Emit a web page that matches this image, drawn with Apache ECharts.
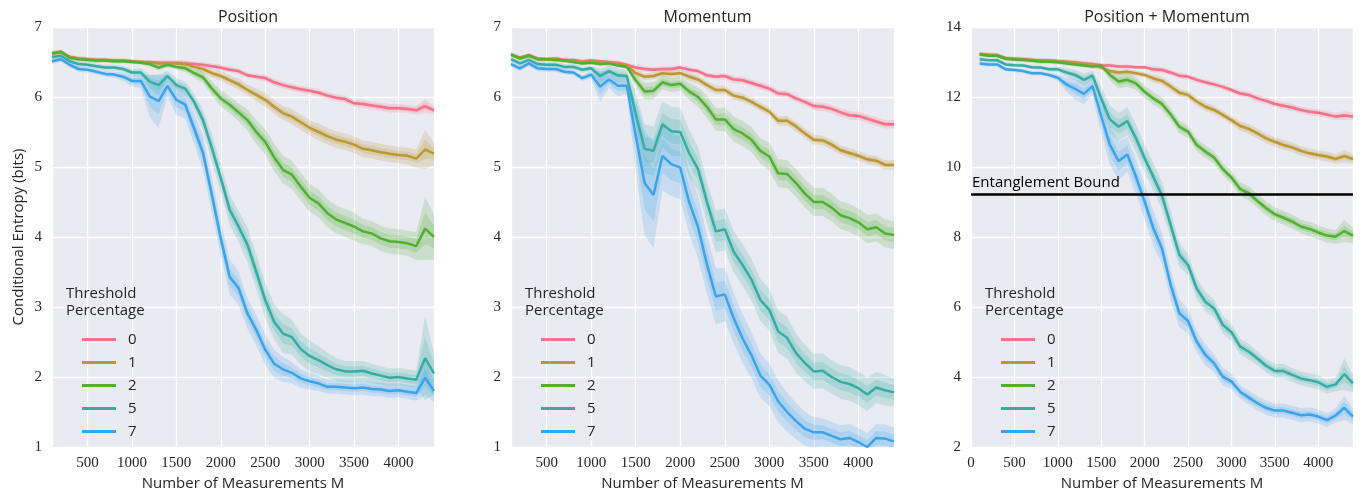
<!DOCTYPE html>
<html>
<head>
<meta charset="utf-8">
<script src="https://cdn.jsdelivr.net/npm/echarts@6/dist/echarts.min.js"></script>
<style>
  html, body { margin: 0; padding: 0; background: #fff; }
  #chart { width: 1369px; height: 500px; }
</style>
</head>
<body>
<div id="chart"></div>
<script>
// measurements M (x values)
const measurements = [100, 200, 300, 400, 500, 600, 700, 800, 900, 1000,
  1100, 1200, 1300, 1400, 1500, 1600, 1700, 1800, 1900, 2000,
  2100, 2200, 2300, 2400, 2500, 2600, 2700, 2800, 2900, 3000,
  3100, 3200, 3300, 3400, 3500, 3600, 3700, 3800, 3900, 4000,
  4100, 4200, 4300, 4400];

const thresholds = ['0', '1', '2', '5', '7'];
const panelTitles = ['Position', 'Momentum', 'Position + Momentum'];

// ---- Position: mean entropy per threshold
const pos0 = [6.62, 6.64, 6.57, 6.55, 6.54, 6.53, 6.53, 6.52, 6.52, 6.51, 6.50, 6.50, 6.49, 6.49, 6.49, 6.48, 6.47, 6.46, 6.44, 6.42, 6.39, 6.37, 6.31, 6.29, 6.27, 6.21, 6.17, 6.14, 6.11, 6.09, 6.06, 6.02, 5.99, 5.97, 5.91, 5.90, 5.88, 5.86, 5.84, 5.84, 5.83, 5.81, 5.87, 5.81];
const pos1 = [6.63, 6.64, 6.57, 6.55, 6.54, 6.53, 6.53, 6.52, 6.52, 6.51, 6.50, 6.49, 6.48, 6.48, 6.48, 6.47, 6.43, 6.40, 6.34, 6.30, 6.24, 6.18, 6.10, 6.03, 5.96, 5.86, 5.77, 5.72, 5.64, 5.56, 5.50, 5.44, 5.39, 5.36, 5.32, 5.26, 5.24, 5.21, 5.19, 5.17, 5.16, 5.12, 5.25, 5.19];
const pos2 = [6.62, 6.65, 6.56, 6.54, 6.53, 6.52, 6.52, 6.51, 6.51, 6.50, 6.49, 6.47, 6.42, 6.46, 6.43, 6.41, 6.34, 6.28, 6.12, 5.98, 5.89, 5.78, 5.67, 5.50, 5.36, 5.14, 4.96, 4.89, 4.72, 4.56, 4.48, 4.34, 4.25, 4.20, 4.15, 4.08, 4.05, 3.98, 3.94, 3.93, 3.91, 3.87, 4.12, 4.00];
const pos5 = [6.57, 6.59, 6.51, 6.47, 6.46, 6.44, 6.42, 6.42, 6.40, 6.35, 6.35, 6.22, 6.17, 6.30, 6.17, 6.12, 5.93, 5.67, 5.27, 4.84, 4.39, 4.15, 3.89, 3.50, 3.10, 2.79, 2.62, 2.57, 2.40, 2.30, 2.24, 2.17, 2.11, 2.08, 2.08, 2.09, 2.05, 2.02, 1.99, 2.00, 1.98, 1.96, 2.27, 2.05];
const pos7 = [6.51, 6.54, 6.46, 6.40, 6.39, 6.36, 6.33, 6.32, 6.29, 6.23, 6.23, 6.01, 5.94, 6.16, 5.96, 5.89, 5.55, 5.20, 4.60, 3.98, 3.43, 3.27, 2.91, 2.67, 2.39, 2.19, 2.11, 2.06, 1.98, 1.94, 1.91, 1.86, 1.86, 1.85, 1.84, 1.85, 1.83, 1.82, 1.80, 1.81, 1.79, 1.77, 1.99, 1.80];

// ---- Position: half width of the outer (95%) band
const posErr0 = [0.03, 0.03, 0.03, 0.03, 0.03, 0.03, 0.03, 0.03, 0.03, 0.03, 0.03, 0.03, 0.03, 0.03, 0.03, 0.04, 0.04, 0.04, 0.04, 0.04, 0.04, 0.04, 0.04, 0.04, 0.05, 0.05, 0.05, 0.05, 0.05, 0.05, 0.05, 0.05, 0.05, 0.05, 0.05, 0.06, 0.06, 0.06, 0.06, 0.06, 0.06, 0.06, 0.10, 0.06];
const posErr1 = [0.03, 0.03, 0.03, 0.03, 0.03, 0.03, 0.03, 0.03, 0.03, 0.03, 0.03, 0.03, 0.04, 0.04, 0.04, 0.05, 0.05, 0.06, 0.06, 0.07, 0.07, 0.08, 0.08, 0.09, 0.10, 0.10, 0.10, 0.11, 0.11, 0.11, 0.12, 0.12, 0.12, 0.12, 0.12, 0.12, 0.12, 0.12, 0.12, 0.12, 0.12, 0.13, 0.28, 0.16];
const posErr2 = [0.03, 0.03, 0.03, 0.03, 0.03, 0.03, 0.03, 0.03, 0.03, 0.03, 0.03, 0.04, 0.05, 0.04, 0.04, 0.05, 0.06, 0.08, 0.10, 0.12, 0.12, 0.13, 0.15, 0.17, 0.18, 0.20, 0.20, 0.20, 0.20, 0.20, 0.20, 0.20, 0.20, 0.20, 0.20, 0.18, 0.18, 0.18, 0.18, 0.18, 0.18, 0.20, 0.45, 0.32];
const posErr5 = [0.04, 0.04, 0.04, 0.04, 0.04, 0.04, 0.04, 0.04, 0.04, 0.05, 0.06, 0.10, 0.14, 0.08, 0.10, 0.10, 0.12, 0.15, 0.20, 0.20, 0.22, 0.22, 0.25, 0.25, 0.25, 0.25, 0.28, 0.25, 0.22, 0.22, 0.20, 0.18, 0.16, 0.15, 0.15, 0.14, 0.14, 0.13, 0.13, 0.13, 0.13, 0.13, 0.60, 0.30];
const posErr7 = [0.04, 0.04, 0.04, 0.04, 0.04, 0.04, 0.04, 0.04, 0.06, 0.08, 0.10, 0.30, 0.38, 0.15, 0.22, 0.20, 0.22, 0.25, 0.25, 0.25, 0.25, 0.24, 0.22, 0.22, 0.22, 0.20, 0.18, 0.15, 0.13, 0.12, 0.11, 0.10, 0.10, 0.10, 0.10, 0.10, 0.10, 0.10, 0.10, 0.10, 0.10, 0.11, 0.25, 0.15];

// ---- Momentum
const mom0 = [6.61, 6.56, 6.60, 6.55, 6.54, 6.55, 6.53, 6.53, 6.51, 6.52, 6.51, 6.50, 6.49, 6.46, 6.42, 6.40, 6.39, 6.40, 6.40, 6.42, 6.39, 6.37, 6.31, 6.29, 6.30, 6.25, 6.24, 6.20, 6.16, 6.12, 6.05, 6.04, 5.98, 5.93, 5.87, 5.86, 5.83, 5.78, 5.74, 5.73, 5.69, 5.65, 5.61, 5.61];
const mom1 = [6.60, 6.56, 6.59, 6.54, 6.54, 6.54, 6.52, 6.51, 6.50, 6.51, 6.50, 6.48, 6.47, 6.45, 6.34, 6.29, 6.30, 6.34, 6.33, 6.34, 6.29, 6.25, 6.17, 6.10, 6.10, 6.02, 5.99, 5.93, 5.86, 5.79, 5.66, 5.66, 5.58, 5.48, 5.39, 5.38, 5.32, 5.24, 5.20, 5.16, 5.11, 5.09, 5.03, 5.03];
const mom2 = [6.61, 6.55, 6.59, 6.54, 6.54, 6.53, 6.52, 6.50, 6.48, 6.49, 6.47, 6.48, 6.45, 6.43, 6.24, 6.08, 6.09, 6.21, 6.17, 6.19, 6.08, 6.00, 5.86, 5.68, 5.68, 5.54, 5.48, 5.39, 5.23, 5.15, 4.91, 4.90, 4.77, 4.62, 4.50, 4.50, 4.42, 4.31, 4.27, 4.21, 4.11, 4.14, 4.05, 4.03];
const mom5 = [6.54, 6.48, 6.53, 6.47, 6.46, 6.46, 6.43, 6.43, 6.39, 6.41, 6.30, 6.37, 6.31, 6.30, 5.76, 5.26, 5.23, 5.61, 5.51, 5.50, 5.20, 4.97, 4.50, 4.08, 4.11, 3.79, 3.60, 3.39, 3.10, 2.96, 2.65, 2.56, 2.34, 2.20, 2.08, 2.09, 2.00, 1.93, 1.90, 1.84, 1.75, 1.85, 1.81, 1.78];
const mom7 = [6.47, 6.41, 6.48, 6.41, 6.40, 6.40, 6.36, 6.35, 6.27, 6.32, 6.15, 6.25, 6.16, 6.16, 5.45, 4.77, 4.60, 5.16, 5.04, 4.99, 4.50, 4.14, 3.61, 3.15, 3.18, 2.84, 2.55, 2.31, 2.02, 1.89, 1.65, 1.50, 1.37, 1.26, 1.21, 1.21, 1.16, 1.11, 1.13, 1.07, 1.00, 1.13, 1.12, 1.08];

const momErr0 = [0.03, 0.03, 0.03, 0.03, 0.03, 0.03, 0.03, 0.03, 0.03, 0.03, 0.03, 0.03, 0.03, 0.03, 0.04, 0.04, 0.04, 0.04, 0.04, 0.04, 0.04, 0.04, 0.04, 0.04, 0.05, 0.05, 0.05, 0.05, 0.05, 0.05, 0.05, 0.05, 0.05, 0.05, 0.06, 0.06, 0.06, 0.06, 0.06, 0.06, 0.06, 0.06, 0.06, 0.06];
const momErr1 = [0.03, 0.03, 0.03, 0.03, 0.03, 0.03, 0.03, 0.03, 0.03, 0.03, 0.03, 0.03, 0.03, 0.03, 0.05, 0.05, 0.05, 0.05, 0.05, 0.05, 0.06, 0.06, 0.06, 0.06, 0.06, 0.06, 0.06, 0.06, 0.06, 0.06, 0.07, 0.07, 0.07, 0.07, 0.07, 0.07, 0.07, 0.07, 0.07, 0.07, 0.07, 0.07, 0.07, 0.07];
const momErr2 = [0.03, 0.03, 0.03, 0.03, 0.03, 0.03, 0.03, 0.03, 0.03, 0.03, 0.03, 0.03, 0.03, 0.03, 0.08, 0.12, 0.12, 0.10, 0.10, 0.10, 0.12, 0.14, 0.16, 0.16, 0.17, 0.18, 0.18, 0.18, 0.18, 0.20, 0.20, 0.20, 0.20, 0.20, 0.20, 0.20, 0.20, 0.20, 0.20, 0.20, 0.20, 0.20, 0.20, 0.20];
const momErr5 = [0.04, 0.04, 0.04, 0.04, 0.04, 0.04, 0.04, 0.04, 0.04, 0.04, 0.10, 0.08, 0.10, 0.08, 0.30, 0.35, 0.35, 0.33, 0.35, 0.35, 0.33, 0.32, 0.30, 0.30, 0.30, 0.30, 0.30, 0.30, 0.30, 0.30, 0.30, 0.30, 0.28, 0.26, 0.25, 0.25, 0.24, 0.24, 0.24, 0.24, 0.24, 0.22, 0.22, 0.20];
const momErr7 = [0.04, 0.04, 0.04, 0.04, 0.04, 0.04, 0.04, 0.04, 0.04, 0.06, 0.22, 0.12, 0.15, 0.12, 0.50, 0.75, 0.75, 0.50, 0.45, 0.45, 0.45, 0.45, 0.42, 0.40, 0.38, 0.36, 0.35, 0.33, 0.32, 0.30, 0.30, 0.28, 0.26, 0.24, 0.22, 0.20, 0.20, 0.20, 0.20, 0.20, 0.20, 0.20, 0.20, 0.20];

// ---- Position + Momentum
const both0 = [13.22, 13.20, 13.18, 13.10, 13.09, 13.08, 13.06, 13.05, 13.04, 13.03, 13.01, 12.99, 12.96, 12.94, 12.91, 12.90, 12.87, 12.87, 12.85, 12.85, 12.79, 12.77, 12.70, 12.61, 12.58, 12.49, 12.42, 12.36, 12.29, 12.20, 12.10, 12.06, 11.96, 11.89, 11.80, 11.75, 11.70, 11.63, 11.58, 11.55, 11.50, 11.44, 11.47, 11.44];
const both1 = [13.23, 13.21, 13.20, 13.11, 13.09, 13.08, 13.06, 13.04, 13.03, 13.02, 13.00, 12.98, 12.95, 12.92, 12.84, 12.74, 12.70, 12.72, 12.68, 12.63, 12.53, 12.46, 12.30, 12.12, 12.06, 11.87, 11.72, 11.63, 11.49, 11.34, 11.17, 11.09, 10.96, 10.82, 10.72, 10.63, 10.56, 10.46, 10.39, 10.34, 10.30, 10.23, 10.31, 10.23];
const both2 = [13.22, 13.18, 13.18, 13.09, 13.07, 13.06, 13.04, 13.01, 13.01, 12.99, 12.96, 12.93, 12.90, 12.87, 12.90, 12.63, 12.44, 12.49, 12.39, 12.15, 11.96, 11.80, 11.50, 11.15, 11.01, 10.63, 10.44, 10.27, 9.94, 9.70, 9.37, 9.25, 9.03, 8.82, 8.65, 8.55, 8.44, 8.30, 8.23, 8.13, 8.04, 8.01, 8.17, 8.04];
const both5 = [13.08, 13.05, 13.05, 12.93, 12.91, 12.90, 12.85, 12.84, 12.79, 12.79, 12.70, 12.63, 12.49, 12.61, 11.96, 11.36, 11.15, 11.31, 10.82, 10.25, 9.72, 9.18, 8.34, 7.49, 7.20, 6.53, 6.15, 5.96, 5.49, 5.28, 4.87, 4.72, 4.53, 4.32, 4.17, 4.17, 4.06, 3.96, 3.91, 3.85, 3.72, 3.79, 4.08, 3.82];
const both7 = [12.96, 12.93, 12.93, 12.79, 12.77, 12.74, 12.68, 12.68, 12.63, 12.55, 12.36, 12.23, 12.09, 12.31, 11.45, 10.63, 10.17, 10.36, 9.72, 9.01, 8.25, 7.67, 6.63, 5.82, 5.60, 5.01, 4.63, 4.39, 4.01, 3.87, 3.58, 3.41, 3.25, 3.12, 3.04, 3.04, 2.98, 2.91, 2.93, 2.87, 2.77, 2.90, 3.12, 2.87];

const bothErr0 = [0.06, 0.06, 0.06, 0.06, 0.06, 0.06, 0.06, 0.06, 0.06, 0.06, 0.06, 0.06, 0.06, 0.06, 0.06, 0.06, 0.06, 0.06, 0.06, 0.06, 0.08, 0.08, 0.08, 0.08, 0.08, 0.08, 0.08, 0.08, 0.08, 0.08, 0.10, 0.10, 0.10, 0.10, 0.10, 0.10, 0.10, 0.10, 0.10, 0.10, 0.10, 0.10, 0.12, 0.10];
const bothErr1 = [0.06, 0.06, 0.06, 0.06, 0.06, 0.06, 0.06, 0.06, 0.06, 0.06, 0.06, 0.06, 0.06, 0.06, 0.08, 0.08, 0.08, 0.08, 0.08, 0.08, 0.12, 0.12, 0.12, 0.12, 0.12, 0.12, 0.12, 0.12, 0.12, 0.12, 0.14, 0.14, 0.14, 0.14, 0.14, 0.14, 0.14, 0.14, 0.14, 0.14, 0.14, 0.14, 0.18, 0.14];
const bothErr2 = [0.06, 0.06, 0.06, 0.06, 0.06, 0.06, 0.06, 0.06, 0.06, 0.06, 0.06, 0.06, 0.06, 0.06, 0.08, 0.15, 0.20, 0.20, 0.18, 0.18, 0.18, 0.18, 0.18, 0.18, 0.18, 0.18, 0.18, 0.18, 0.18, 0.18, 0.20, 0.20, 0.20, 0.20, 0.20, 0.20, 0.20, 0.20, 0.20, 0.20, 0.20, 0.20, 0.32, 0.22];
const bothErr5 = [0.06, 0.06, 0.06, 0.06, 0.06, 0.06, 0.06, 0.06, 0.06, 0.08, 0.12, 0.15, 0.18, 0.15, 0.35, 0.40, 0.40, 0.40, 0.40, 0.40, 0.40, 0.40, 0.40, 0.35, 0.30, 0.30, 0.28, 0.25, 0.25, 0.25, 0.22, 0.22, 0.20, 0.20, 0.20, 0.20, 0.20, 0.20, 0.20, 0.20, 0.20, 0.20, 0.45, 0.25];
const bothErr7 = [0.06, 0.06, 0.06, 0.06, 0.06, 0.06, 0.06, 0.06, 0.06, 0.10, 0.20, 0.30, 0.30, 0.25, 0.50, 0.55, 0.55, 0.50, 0.50, 0.50, 0.50, 0.45, 0.45, 0.40, 0.35, 0.30, 0.30, 0.25, 0.25, 0.22, 0.20, 0.20, 0.20, 0.20, 0.20, 0.20, 0.20, 0.20, 0.20, 0.20, 0.20, 0.20, 0.35, 0.22];

const entanglementBound = 9.22;

const colors = ['#f77189', '#bb9832', '#50b131', '#36ada4', '#3ba3ec'];
const sans = '"Open Sans", "DejaVu Sans", sans-serif';
const serif = '"Liberation Serif", "DejaVu Serif", serif';
const ink = '#262626';

const panels = [
    { left: 52, right: 935, xMin: 100, yMin: 1, yMax: 7, yStep: 1,
      means: [pos0, pos1, pos2, pos5, pos7], errs: [posErr0, posErr1, posErr2, posErr5, posErr7] },
    { left: 511, right: 475, xMin: 100, yMin: 1, yMax: 7, yStep: 1,
      means: [mom0, mom1, mom2, mom5, mom7], errs: [momErr0, momErr1, momErr2, momErr5, momErr7] },
    { left: 971, right: 16, xMin: 0, yMin: 2, yMax: 14, yStep: 2,
      means: [both0, both1, both2, both5, both7], errs: [bothErr0, bothErr1, bothErr2, bothErr5, bothErr7] }
];

// the whole band is one polygon, drawn once from the first item
function renderBand(params, api) {
    if (params.dataIndexInside !== 0) return null;
    const n = params.dataInsideLength;
    const upper = [], lower = [];
    for (let i = 0; i < n; i++) {
        const x = api.value(0, i);
        upper.push(api.coord([x, api.value(2, i)]));
        lower.push(api.coord([x, api.value(1, i)]));
    }
    const cs = params.coordSys;
    return {
        type: 'polygon',
        shape: { points: upper.concat(lower.reverse()) },
        style: { fill: api.visual('color'), opacity: 0.2 },
        clipPath: { type: 'rect', shape: { x: cs.x, y: cs.y, width: cs.width, height: cs.height } },
        silent: true
    };
}

const chart = echarts.init(document.getElementById('chart'));

const grids = [], xAxes = [], yAxes = [], series = [], titles = [], legends = [], graphics = [];

panels.forEach((p, gi) => {
    grids.push({
        left: p.left, right: p.right, top: 27, bottom: 53,
        show: true, backgroundColor: '#eaeaf2', borderWidth: 0
    });
    const x = {
        gridIndex: gi, type: 'value', max: 4400,
        name: 'Number of Measurements M', nameLocation: 'middle', nameGap: 29,
        nameTextStyle: { fontFamily: sans, fontSize: 15, color: ink },
        axisLine: { show: false }, axisTick: { show: false },
        axisLabel: { fontFamily: serif, fontSize: 15, color: ink, margin: 9, showMaxLabel: false,
                     formatter: v => String(v) },
        splitLine: { lineStyle: { color: '#fff', width: 1.3 } }
    };
    if (p.xMin === 0) {
        x.min = 0; x.interval = 500;
    } else {
        x.min = p.xMin; x.minInterval = 500; x.maxInterval = 500; x.splitNumber = 9;
        x.axisLabel.showMinLabel = false;
    }
    xAxes.push(x);
    yAxes.push({
        gridIndex: gi, type: 'value', min: p.yMin, max: p.yMax, interval: p.yStep,
        name: gi === 0 ? 'Conditional Entropy (bits)' : '', nameLocation: 'middle', nameGap: 26,
        nameTextStyle: { fontFamily: sans, fontSize: 15, color: ink },
        axisLine: { show: false }, axisTick: { show: false },
        axisLabel: { fontFamily: serif, fontSize: 15, color: ink, margin: 10 },
        splitLine: { lineStyle: { color: '#fff', width: 1.3 } }
    });

    const center = (p.left + (1369 - p.right)) / 2;
    titles.push({
        text: panelTitles[gi], left: center, top: 4, textAlign: 'center',
        textStyle: { fontFamily: sans, fontSize: 16, fontWeight: 'normal', color: ink }
    });

    // confidence bands (outer then inner), drawn below the lines
    p.means.forEach((m, si) => {
        const e = p.errs[si];
        [1, 0.5].forEach(frac => {
            series.push({
                type: 'custom', xAxisIndex: gi, yAxisIndex: gi,
                renderItem: renderBand, silent: true, z: 1,
                itemStyle: { color: colors[si] },
                encode: { x: 0, y: [1, 2] },
                data: measurements.map((v, i) => [v, m[i] - e[i] * frac, m[i] + e[i] * frac])
            });
        });
    });
    p.means.forEach((m, si) => {
        series.push({
            name: thresholds[si], type: 'line', xAxisIndex: gi, yAxisIndex: gi,
            data: measurements.map((v, i) => [v, m[i]]),
            symbol: 'none', z: 3,
            itemStyle: { color: colors[si] },
            lineStyle: { color: colors[si], width: 2.5 }
        });
    });

    legends.push({
        data: thresholds, orient: 'vertical', left: p.left + 25, top: 327,
        icon: 'rect', itemWidth: 34, itemHeight: 3, itemGap: 8,
        selectedMode: false,
        textStyle: { fontFamily: sans, fontSize: 15, color: ink, lineHeight: 15, padding: [0, 0, 0, 7] }
    });
    graphics.push({
        type: 'text', left: p.left + 14, top: 285, z: 10,
        style: { text: 'Threshold\nPercentage', fontFamily: sans, fontSize: 15, lineHeight: 17, fill: ink }
    });
});

// entanglement bound on the third panel
series.push({
    type: 'line', xAxisIndex: 2, yAxisIndex: 2, data: [], z: 5,
    markLine: {
        silent: true, symbol: ['none', 'none'],
        lineStyle: { color: '#000', width: 2.5, type: 'solid' },
        label: {
            show: true, position: 'insideStartTop', formatter: 'Entanglement Bound',
            fontFamily: sans, fontSize: 15, color: '#000', distance: [1, 4]
        },
        data: [{ yAxis: entanglementBound }]
    }
});

chart.setOption({
    animation: false,
    backgroundColor: '#fff',
    title: titles,
    grid: grids,
    xAxis: xAxes,
    yAxis: yAxes,
    legend: legends,
    graphic: graphics,
    series: series
});
</script>
</body>
</html>
